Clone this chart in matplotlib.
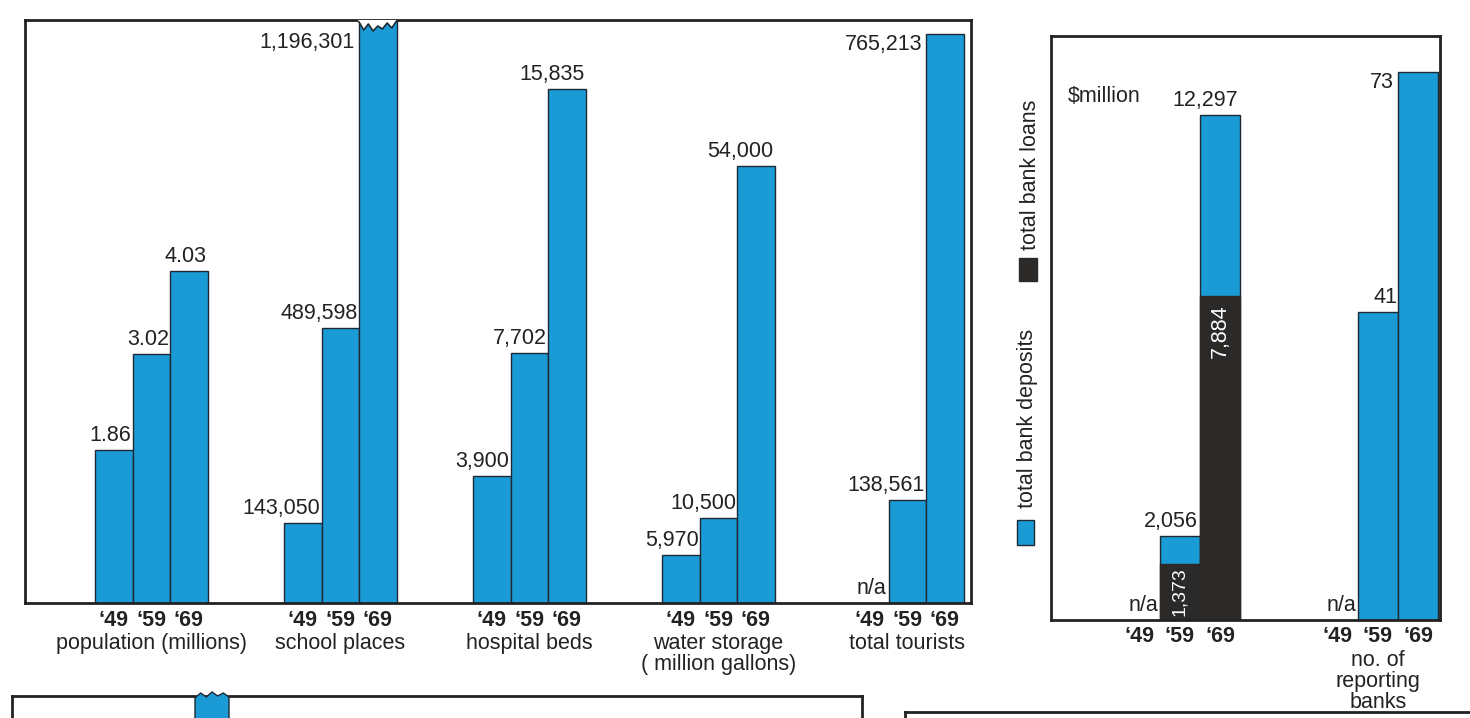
import numpy as np
import matplotlib.pyplot as plt
from matplotlib.patches import Rectangle, Polygon

plt.rcParams['font.family'] = ['Liberation Sans', 'DejaVu Sans']

W, H = 1470, 718

#%% data
years = ['\u201849', '\u201859', '\u201869']

categories = ['population (millions)', 'school places', 'hospital beds',
              'water storage\n( million gallons)', 'total tourists']
population = [1.86, 3.02, 4.03]
school_places = [143050, 489598, 1196301]
hospital_beds = [3900, 7702, 15835]
water_storage = [5970, 10500, 54000]
total_tourists = [None, 138561, 765213]

bank_deposits = [None, 2056, 12297]   # $million
bank_loans = [None, 1373, 7884]       # $million
reporting_banks = [None, 41, 73]

#%% styling
BLUE = '#1b9bd6'
DARK = '#2b2a28'
EDGE = '#1d2833'
INK = '#222222'
FS = 15.5

fig = plt.figure(figsize=(W / 100, H / 100), dpi=100)


def px_axes(x0, y0, x1, y1):
    # axes placed by pixel box, data units are pixels above the baseline
    ax = fig.add_axes([x0 / W, 1 - y1 / H, (x1 - x0) / W, (y1 - y0) / H])
    ax.set_xlim(x0, x1)
    ax.set_ylim(0, y1 - y0)
    ax.set_xticks([])
    ax.set_yticks([])
    for s in ax.spines.values():
        s.set_linewidth(2)
        s.set_color(INK)
    return ax


def fmt(v):
    if v is None:
        return 'n/a'
    if isinstance(v, float):
        return f'{v:.2f}'
    return f'{v:,}'


def year_labels(ax, centers, name):
    for xc, yr in zip(centers, years):
        ax.text(xc, -17, yr, ha='center', va='center', fontsize=FS,
                fontweight='bold', color=INK, clip_on=False)
    ax.text(centers[1], -30, name, ha='center', va='top', fontsize=FS,
            linespacing=1.0, color=INK, clip_on=False)


def draw_group(ax, x0, vals, px_per_unit, bw, name):
    axh = ax.get_ylim()[1]
    centers = x0 + bw * (np.arange(3) + 0.5)
    for xc, v in zip(centers, vals):
        if v is None:
            ax.text(xc + bw / 2 - 2, 4, 'n/a', ha='right', va='bottom',
                    fontsize=FS, color=INK)
            continue
        h = v * px_per_unit
        ax.bar(xc, h, width=bw, color=BLUE, edgecolor=EDGE, linewidth=1)
        if h > axh - 40:
            # bar runs up to the frame, label goes beside it
            ax.text(xc - bw / 2 - 4, min(h, axh - 12), fmt(v), ha='right',
                    va='top', fontsize=FS, color=INK)
        else:
            ax.text(xc + bw / 2 - 1, h + 4, fmt(v), ha='right', va='bottom',
                    fontsize=FS, color=INK)
    year_labels(ax, centers, name)
    return centers


def tear(ax, xc, bw):
    # ragged top for a bar that is cut off
    axh = ax.get_ylim()[1]
    xs = np.linspace(xc - bw / 2, xc + bw / 2, 9)
    ys = axh - np.array([2, 10, 4, 11, 6, 9, 3, 8, 1])
    poly = [(xs[0] - 1, axh)] + list(zip(xs, ys)) + [(xs[-1] + 1, axh)]
    ax.add_patch(Polygon(poly, closed=True, facecolor='white',
                         edgecolor='none', zorder=3))
    ax.plot(xs, ys, color=EDGE, lw=1.2, zorder=4)


#%% left panel
ax = px_axes(25, 20, 971, 603)
bw = 37.5
group_x0 = [95, 284, 473, 662, 851]
series = [population, school_places, hospital_beds, water_storage, total_tourists]
top_px = [332, 672, 514, 437, 569]   # height of each group's largest bar

for x0, vals, tp, name in zip(group_x0, series, top_px, categories):
    vmax = max(v for v in vals if v is not None)
    c = draw_group(ax, x0, vals, tp / vmax, bw, name)
    if tp > ax.get_ylim()[1]:
        tear(ax, c[2], bw)

#%% right panel
ax2 = px_axes(1051, 36, 1440, 620)
bw2 = 40
usd_px = 505 / max(v for v in bank_deposits if v is not None)
bank_centers = 1120 + bw2 * (np.arange(3) + 0.5)

for xc, dep, loan in zip(bank_centers, bank_deposits, bank_loans):
    if dep is None:
        ax2.text(xc + bw2 / 2 - 2, 4, 'n/a', ha='right', va='bottom',
                 fontsize=FS, color=INK)
        continue

    hd = dep * usd_px
    hl = loan * usd_px
    ax2.bar(xc, hd, width=bw2, color=BLUE, edgecolor=EDGE, linewidth=1)
    ax2.bar(xc, hl, width=bw2, color=DARK, edgecolor=DARK, linewidth=1)
    ax2.text(xc + bw2 / 2 - 2, hd + 4, fmt(dep), ha='right', va='bottom',
             fontsize=FS, color=INK)
    if hl > 120:
        ax2.text(xc, hl - 8, fmt(loan), ha='center', va='top', rotation=90,
                 fontsize=FS, color='white')
    else:
        ax2.text(xc, hl / 2, fmt(loan), ha='center', va='center',
                 rotation=90, fontsize=FS - 1.5, color='white')
year_labels(ax2, bank_centers, '')

draw_group(ax2, 1318, reporting_banks, 548 / 73, bw2, 'no. of\nreporting\nbanks')

fig.text(1068 / W, 1 - 97 / H, '$million', ha='left', va='center',
         fontsize=FS, color=INK)

#%% legend, set on its side between the panels
fig.add_artist(Rectangle((1017 / W, 1 - 545 / H), 17 / W, 25 / H,
                         transform=fig.transFigure, facecolor=BLUE,
                         edgecolor=EDGE, lw=1))
fig.text(1027 / W, 1 - 508 / H, 'total bank deposits', rotation=90,
         ha='center', va='bottom', fontsize=FS, color=INK)
fig.add_artist(Rectangle((1019 / W, 1 - 281 / H), 18 / W, 23 / H,
                         transform=fig.transFigure, facecolor=DARK,
                         edgecolor=DARK, lw=1))
fig.text(1030 / W, 1 - 250 / H, 'total bank loans', rotation=90,
         ha='center', va='bottom', fontsize=FS, color=INK)

#%% top edges of the next row of panels
ax3 = px_axes(12, 696, 862, 760)
ax3.spines['bottom'].set_visible(False)
xs = np.linspace(195, 229, 7)
ys = 64 - np.array([2, -3, 1, -4, 0, -3, 1])
ax3.add_patch(Polygon([(195, 0)] + list(zip(xs, ys)) + [(229, 0)],
                      closed=True, facecolor=BLUE, edgecolor=EDGE, lw=1,
                      clip_on=False, zorder=3))

ax4 = px_axes(905, 712, 1520, 780)
ax4.spines['bottom'].set_visible(False)
ax4.spines['right'].set_visible(False)

fig.savefig('out.png', dpi=100)
